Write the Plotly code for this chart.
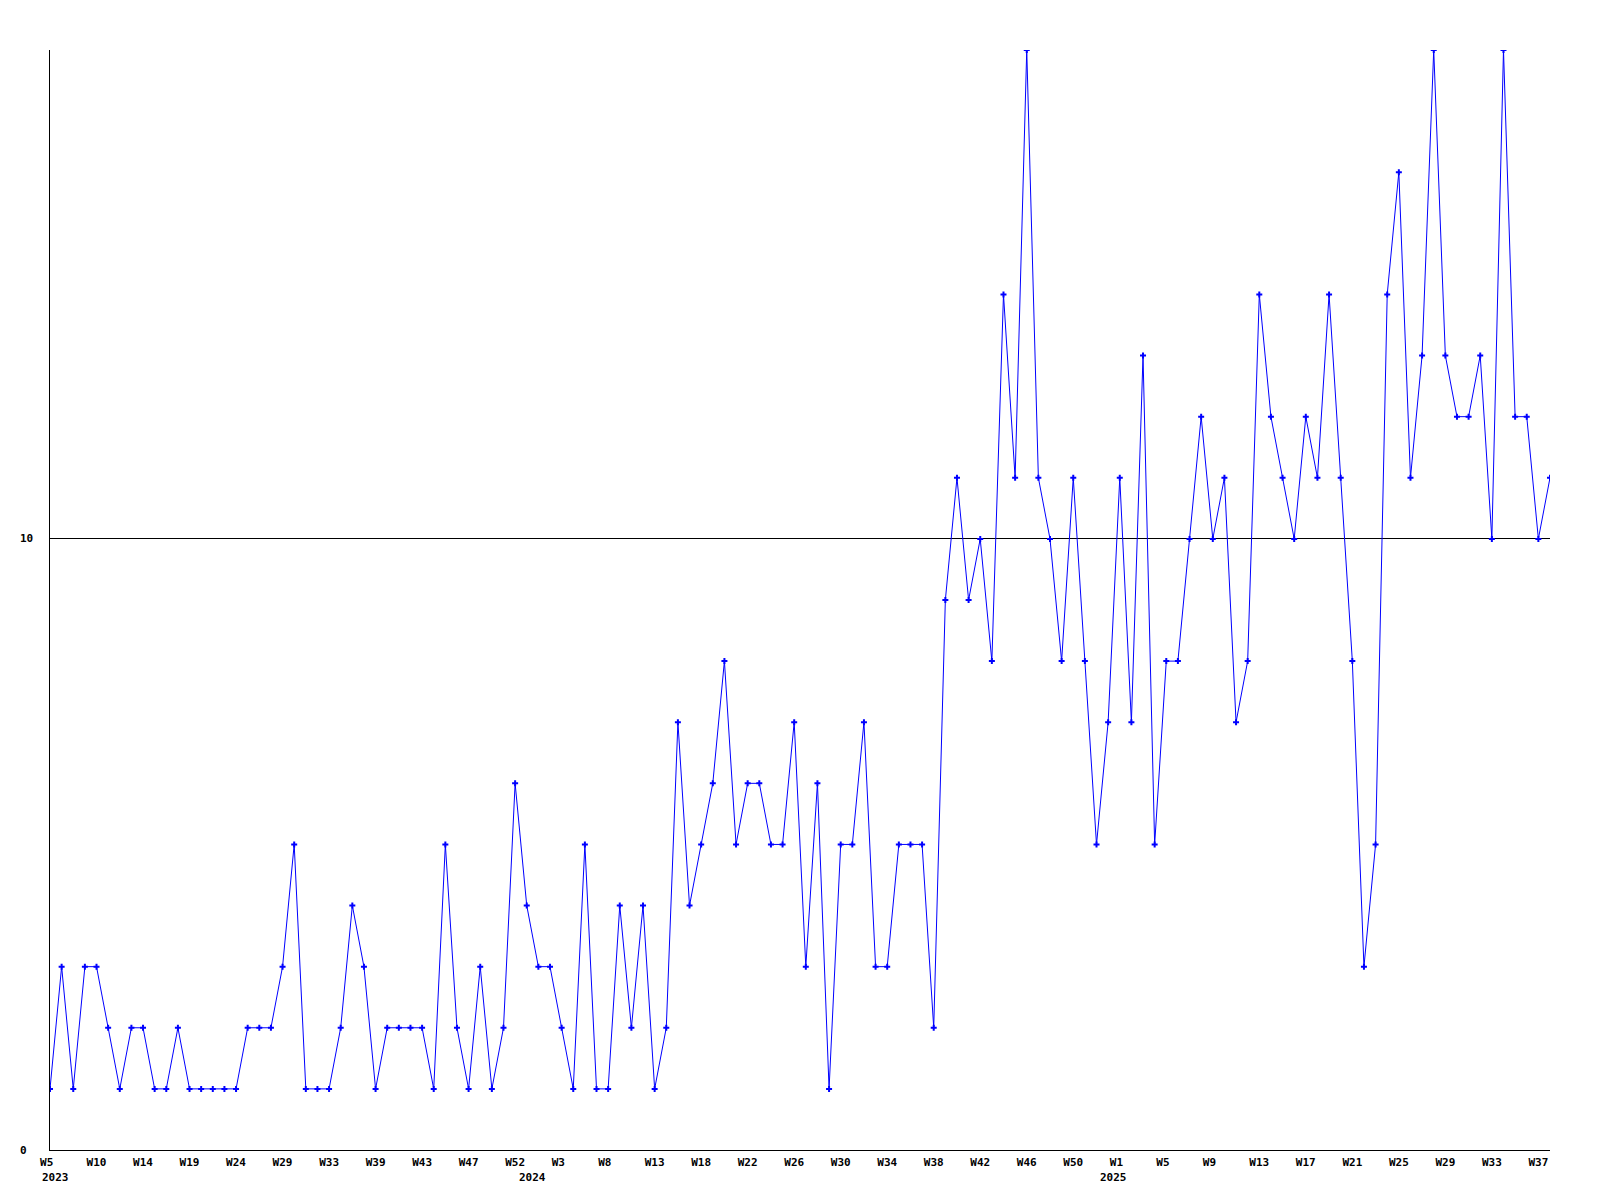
import plotly.graph_objs as go

# weekly counts (2023 W5 .. 2025 W38)
counts = [1, 3, 1, 3, 3, 2, 1, 2, 2, 1,
          1, 2, 1, 1, 1, 1, 1, 2, 2, 2,
          3, 5, 1, 1, 1, 2, 4, 3, 1, 2,
          2, 2, 2, 1, 5, 2, 1, 3, 1, 2,
          6, 4, 3, 3, 2, 1, 5, 1, 1, 4,
          2, 4, 1, 2, 7, 4, 5, 6, 8, 5,
          6, 6, 5, 5, 7, 3, 6, 1, 5, 5,
          7, 3, 3, 5, 5, 5, 2, 9, 11, 9,
          10, 8, 14, 11, 18, 11, 10, 8, 11, 8,
          5, 7, 11, 7, 13, 5, 8, 8, 10, 12,
          10, 11, 7, 8, 14, 12, 11, 10, 12, 11,
          14, 11, 8, 3, 5, 14, 16, 11, 13, 18,
          13, 12, 12, 13, 10, 18, 12, 12, 10, 11]

week_labels = ["W5", "W10", "W14", "W19", "W24", "W29", "W33", "W39", "W43",
               "W47", "W52", "W3", "W8", "W13", "W18", "W22", "W26", "W30",
               "W34", "W38", "W42", "W46", "W50", "W1", "W5", "W9", "W13",
               "W17", "W21", "W25", "W29", "W33", "W37"]
label_step = 4

years = ["2023", "2024", "2025"]
year_start = [0, 41, 91]

y_ticks = [0, 10]
y_max = 18

FONT = dict(family="DejaVu Sans Mono", size=11, color="black", weight="bold")
BLUE = "#0000ff"

x = list(range(len(counts)))

fig = go.Figure()
fig.add_trace(go.Scatter(
    x=x,
    y=counts,
    mode="lines+markers",
    line=dict(color=BLUE, width=1),
    marker=dict(symbol="cross", size=5, color=BLUE, line=dict(width=0)),
    showlegend=False,
    hoverinfo="x+y",
))

# pad two-char labels so they sit left-aligned like the original
ticktext = [t.ljust(3).replace(" ", "\u00a0") for t in week_labels]

# the page body adds 8px around the plot, so margins are trimmed by that
fig.update_layout(
    width=1584,
    height=1184,
    margin=dict(l=42, r=42, t=42, b=42),
    paper_bgcolor="white",
    plot_bgcolor="white",
    font=FONT,
    xaxis=dict(
        range=[0, len(counts) - 1],
        tickvals=x[::label_step],
        ticktext=ticktext,
        showgrid=False,
        zeroline=False,
        showline=True,
        linecolor="black",
        linewidth=1,
        ticks="",
        tickfont=FONT,
        ticklabelstandoff=2,
    ),
    yaxis=dict(
        range=[0, y_max],
        tickvals=y_ticks,
        showticklabels=False,
        showgrid=True,
        gridcolor="black",
        gridwidth=1,
        zeroline=False,
        showline=True,
        linecolor="black",
        linewidth=1,
        ticks="",
    ),
)

for v in y_ticks:
    fig.add_annotation(x=-0.021, xref="paper", y=v, yref="y", text=str(v),
                       showarrow=False, xanchor="left", yanchor="middle",
                       font=FONT)

for yr, pos in zip(years, year_start):
    fig.add_annotation(x=pos, xref="x", y=0, yref="paper", text=yr,
                       showarrow=False, xanchor="left", yanchor="middle",
                       xshift=-10, yshift=-27, font=FONT)

fig.write_html("out.html")
